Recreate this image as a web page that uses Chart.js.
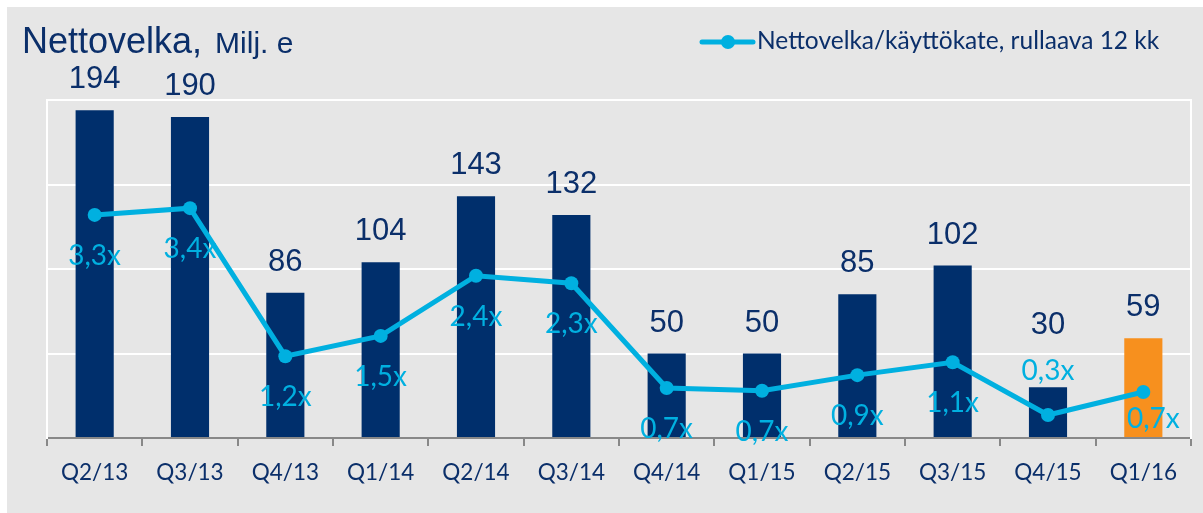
<!DOCTYPE html>
<html>
<head>
<meta charset="utf-8">
<script src="https://cdn.jsdelivr.net/npm/chart.js@4.4.0/dist/chart.umd.min.js"></script>
<style>
    html, body { margin: 0; padding: 0; background: #fff; }
    #wrap { position: absolute; left: 7px; top: 7px; width: 1196px; height: 506px; background: #e6e6e6; }
</style>
</head>
<body>
<div id="wrap"><canvas id="netDebtChart"></canvas></div>
<script>
/* ----- Data ----- */
const quarters = ['Q2/13', 'Q3/13', 'Q4/13', 'Q1/14', 'Q2/14', 'Q3/14', 'Q4/14', 'Q1/15', 'Q2/15', 'Q3/15', 'Q4/15', 'Q1/16'];
const netDebt = [194, 190, 86, 104, 143, 132, 50, 50, 85, 102, 30, 59];
const debtToEbitda = [3.30, 3.40, 1.21, 1.51, 2.40, 2.29, 0.74, 0.70, 0.93, 1.12, 0.34, 0.68];
const debtTicks = [0, 50, 100, 150, 200];

/* ----- Colours ----- */
const NAVY = '#002f6c';
const ORANGE = '#f7901e';
const CYAN = '#00b0e0';
const TEXT = '#0b2f6a';

// where each ratio label sits relative to its point
const ratioPlacement = ['below', 'below', 'below', 'below', 'below', 'below', 'below', 'below', 'below', 'below', 'above', 'right'];
// extra lift for bar labels that would collide with a ratio label
const barLabelLift = [0, 0, 0, 0, 0, 0, 0, 0, 0, 0, 31, 0];

const fmtRatio = (v) => v.toFixed(1).replace('.', ',') + 'x';

/* ----- Plugins: value labels, title and legend ----- */
const valueLabels = {
    id: 'valueLabels',
    afterDatasetsDraw(chart) {
        const ctx = chart.ctx;
        const bars = chart.getDatasetMeta(0).data;
        const points = chart.getDatasetMeta(1).data;
        ctx.save();
        ctx.textAlign = 'center';
        ctx.textBaseline = 'alphabetic';

        ctx.font = '31px "Liberation Sans", Arial, sans-serif';
        ctx.fillStyle = TEXT;
        bars.forEach((bar, i) => {
            ctx.fillText(String(netDebt[i]), bar.x, bar.y - 22 - barLabelLift[i]);
        });

        ctx.font = '28px Lato, sans-serif';
        ctx.fillStyle = CYAN;
        points.forEach((pt, i) => {
            const p = ratioPlacement[i];
            let x = pt.x, y = pt.y + 50;
            if (p === 'above') y = pt.y - 35;
            if (p === 'right') { x = pt.x + 10; y = pt.y + 36; }
            ctx.fillText(fmtRatio(debtToEbitda[i]), x, y);
        });
        ctx.restore();
    }
};

const header = {
    id: 'header',
    afterDraw(chart) {
        const ctx = chart.ctx;
        ctx.save();
        ctx.textAlign = 'left';
        ctx.textBaseline = 'alphabetic';
        ctx.fillStyle = TEXT;
        ctx.font = '36px "Liberation Sans", Arial, sans-serif';
        ctx.fillText('Nettovelka,', 15, 46);
        const w = ctx.measureText('Nettovelka,').width;
        ctx.font = '30px "Liberation Sans", Arial, sans-serif';
        ctx.fillText('Milj. e', 15 + w + 13, 46);

        // legend: line with a dot, then the series name
        const ds = chart.data.datasets[1];
        ctx.strokeStyle = ds.borderColor;
        ctx.lineWidth = 5;
        ctx.lineCap = 'round';
        ctx.beginPath();
        ctx.moveTo(695, 35);
        ctx.lineTo(746, 35);
        ctx.stroke();
        ctx.fillStyle = ds.borderColor;
        ctx.beginPath();
        ctx.arc(721, 35, 7, 0, Math.PI * 2);
        ctx.fill();
        ctx.fillStyle = TEXT;
        ctx.font = '24.5px Lato, sans-serif';
        ctx.fillText(ds.label, 750, 42);
        ctx.restore();
    }
};

/* ----- Chart ----- */
function createNetDebtChart(ctx) {
    new Chart(ctx, {
        type: 'bar',
        data: {
            labels: quarters,
            datasets: [
                {
                    type: 'bar',
                    label: 'Nettovelka',
                    data: netDebt,
                    backgroundColor: netDebt.map((_, i) => i === netDebt.length - 1 ? ORANGE : NAVY),
                    barPercentage: 0.4,
                    categoryPercentage: 1,
                    yAxisID: 'y',
                    order: 2
                },
                {
                    type: 'line',
                    label: 'Nettovelka/käyttökate, rullaava 12 kk',
                    data: debtToEbitda,
                    borderColor: CYAN,
                    backgroundColor: CYAN,
                    pointBackgroundColor: CYAN,
                    pointBorderWidth: 0,
                    borderWidth: 5,
                    pointRadius: 7,
                    tension: 0,
                    yAxisID: 'y1',
                    order: 1
                }
            ]
        },
        plugins: [valueLabels, header],
        options: {
            responsive: true,
            maintainAspectRatio: false,
            animation: false,
            layout: { padding: { left: 40, top: 93, right: 12, bottom: 0 } },
            plugins: {
                legend: { display: false },
                tooltip: { enabled: false }
            },
            scales: {
                x: {
                    afterFit: (scale) => { scale.height = 75; },
                    ticks: {
                        color: TEXT,
                        font: { family: 'Lato', size: 22.5 },
                        padding: 13,
                        maxRotation: 0
                    },
                    grid: {
                        drawOnChartArea: false,
                        drawTicks: true,
                        tickLength: 8,
                        lineWidth: 2,
                        color: '#888888'
                    },
                    border: { color: '#888888', width: 2 }
                },
                y: {
                    position: 'left',
                    min: debtTicks[0],
                    max: debtTicks[debtTicks.length - 1],
                    afterBuildTicks: (scale) => { scale.ticks = debtTicks.map(v => ({ value: v })); },
                    afterFit: (scale) => { scale.width = 0; },
                    ticks: { display: false },
                    grid: {
                        drawTicks: false,
                        lineWidth: 2,
                        color: (c) => c.tick && c.tick.value === 0 ? 'rgba(0,0,0,0)' : '#ffffff'
                    },
                    border: { color: '#ffffff', width: 2 }
                },
                y1: {
                    position: 'right',
                    min: 0,
                    max: 5,
                    afterFit: (scale) => { scale.width = 0; },
                    ticks: { display: false },
                    grid: { drawOnChartArea: false, drawTicks: false },
                    border: { color: '#ffffff', width: 2 }
                }
            }
        }
    });
}

createNetDebtChart(document.getElementById('netDebtChart'));
</script>
</body>
</html>
